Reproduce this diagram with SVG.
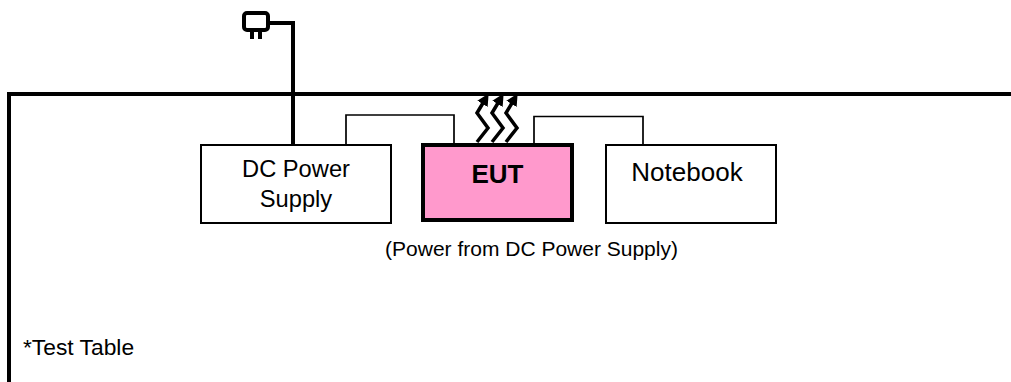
<svg xmlns="http://www.w3.org/2000/svg" width="1011" height="382" viewBox="0 0 1011 382">
<style>
text{font-family:"Liberation Sans",Arial,sans-serif;fill:#000;text-anchor:middle}
.box{fill:#fff;stroke:#000;stroke-width:2}
.thick{fill:none;stroke:#000;stroke-width:4}
.thin{fill:none;stroke:#000;stroke-width:1.7}
.heat{fill:none;stroke:#000;stroke-width:3.500}
</style>
<defs>
<marker id="a" markerUnits="userSpaceOnUse" markerWidth="15" markerHeight="13" refX="1" refY="6" orient="auto"><path d="M0 0L12 6L0 12Z" fill="#000"/></marker>
</defs>
<g id="table">
<path class="thick" d="M9 382V94H1011"/>
<text x="23" y="355" font-size="22.800" style="text-anchor:start">*Test Table</text>
</g>
<g id="connectors">
<path class="thick" d="M269 23H293V146"/>
<path class="thin" d="M346 146V115H454V145"/>
<path class="thin" d="M534 145V116.500H643V146"/>
<path class="heat" marker-end="url(#a)" d="M477 142L488 128L477 113L483 103"/>
<path class="heat" marker-end="url(#a)" d="M492 142L503 128L492 113L498 103"/>
<path class="heat" marker-end="url(#a)" d="M506 142L517 128L506 113L512 103"/>
</g>
<g id="plug">
<rect x="244" y="13" width="24" height="17" rx="3" fill="#fff" stroke="#000" stroke-width="4"/>
<path class="thick" d="M252 31V39M260 31V39"/>
</g>
<g id="dc-power-supply">
<rect class="box" x="201" y="145" width="190" height="78"/>
<text x="296" y="177" font-size="23.700">DC Power</text>
<text x="296" y="207" font-size="23.700">Supply</text>
</g>
<g id="eut">
<rect x="423" y="145" width="149" height="75" fill="#ff99cc" stroke="#000" stroke-width="4"/>
<text x="497.500" y="183" font-size="26" font-weight="bold">EUT</text>
</g>
<g id="notebook">
<rect class="box" x="606" y="145" width="170" height="78"/>
<text x="687" y="181" font-size="26">Notebook</text>
</g>
<g id="caption">
<text x="531.500" y="256" font-size="21">(Power from DC Power Supply)</text>
</g>
</svg>
